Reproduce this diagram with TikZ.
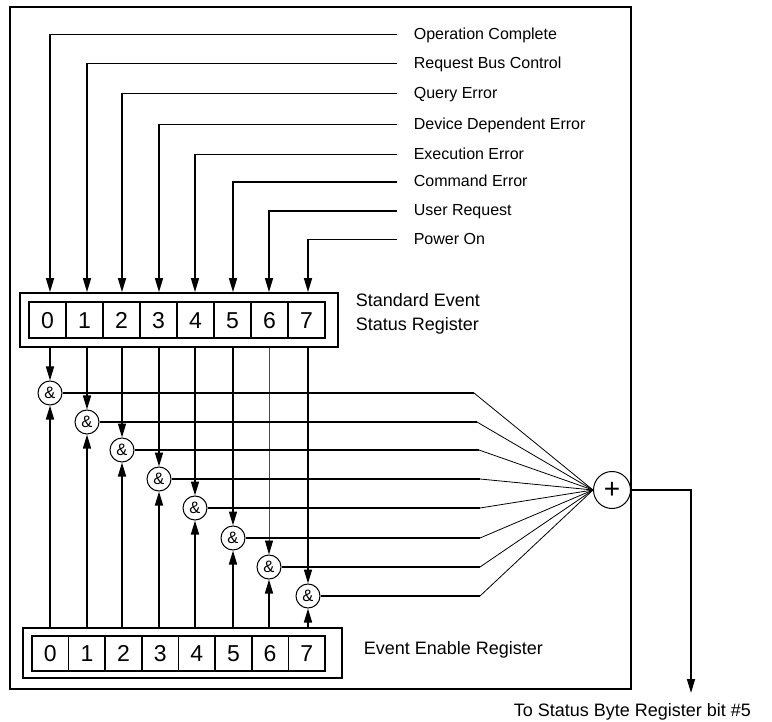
\documentclass[tikz,border=0pt]{standalone}
\usepackage{fontspec}
\setmainfont{Liberation Sans}
\usetikzlibrary{arrows.meta}
\begin{document}
\begin{tikzpicture}[x=1pt,y=-1pt,line width=1.6pt,
  arr/.style={-{Triangle[length=14pt,width=8pt]}},
  thinline/.style={line width=0.8pt},
  regbox/.style={draw,line width=1.8pt,inner sep=0pt},
  cell/.style={draw,line width=1.6pt,inner sep=0pt,minimum height=36pt,
    text height=16.5pt,text depth=0pt,
    font=\fontsize{23}{23}\selectfont},
  gate/.style={draw,circle,line width=1pt,minimum size=24pt,inner sep=0pt,
    font=\fontsize{16.5}{16.5}\selectfont},
  toplabel/.style={anchor=base west,inner sep=0pt,font=\fontsize{16}{19}\selectfont},
  sidelabel/.style={inner sep=0pt,font=\fontsize{18}{24.3}\selectfont}]
\useasboundingbox (0,0) rectangle (772,722);
% outer frame
\draw[line width=1.8pt] (10,7) rectangle (631,689);
% Standard Event Status Register
\node[regbox,minimum width=318pt,minimum height=54pt] (sesr) at (179,320) {};
\foreach \i in {0,...,7}
  \node[cell,minimum width=37pt] (s\i) at ({47.5+37*\i},320) {\i};
\node[sidelabel,anchor=base west,align=left] (sesrlab) at (355,331)
  {Standard Event\\Status Register};
% Event Enable Register
\node[regbox,minimum width=319pt,minimum height=50pt] (eer) at (182.5,653) {};
\foreach \i in {0,...,7}
  \node[cell,minimum width=36.625pt,minimum height=35pt] (e\i) at ({50.3125+36.625*\i},653.5) {\i};
\node[sidelabel,anchor=base west] (eerlab) at (363,654) {Event Enable Register};
% OR gate
\node[draw,circle,line width=1pt,minimum size=37pt,inner sep=0pt,
  font=\fontsize{28}{28}\selectfont] (plus) at (612,490) {+};
% AND gates
\foreach \i/\x/\y in {0/50/393,1/87/422,2/122/450,3/159/479,4/195/508,5/233/538,6/269/567,7/308/596}
  \node[gate] (g\i) at (\x,\y) {\&};
% inputs from the top
\foreach \i/\y/\t in {0/34.5/Operation Complete,1/63.5/Request Bus Control,2/93.5/Query Error,
    3/124.5/Device Dependent Error,4/154.5/Execution Error,5/182/Command Error,
    6/211/User Request,7/239.5/Power On}{
  \coordinate (in\i) at (397,\y);
  \node[toplabel] (l\i) at (413,\y+5) {\t};
  \draw[arr] (in\i) -| (g\i |- sesr.north);
}
% register bits to gates
\foreach \i in {0,1,2,3,4,5,7}
  \draw[arr] (g\i |- sesr.south) -- (g\i.north);
\draw[line width=0.9pt,black!70,-{Triangle[length=14pt,width=8pt,color=black]}]
  (g6 |- sesr.south) -- (g6.north);
\foreach \i in {0,...,7}
  \draw[arr] (g\i |- eer.north) -- (g\i.south);
% gates to OR
\foreach \i/\xe in {0/474,1/477,2/479,3/480,4/480,5/480,6/480,7/480}{
  \coordinate (h\i) at (\xe,0 |- g\i);
  \draw (g\i.east) -- (h\i);
  \draw[thinline] (h\i) -- (plus.west);
}
% output
\coordinate (oc) at (691,490);
\coordinate (oe) at (691,693);
\draw[arr] (plus.east) -- (oc) -- (oe);
\node[sidelabel,anchor=base west] (outlab) at (513,716) {To Status Byte Register bit \#5};
\end{tikzpicture}
\end{document}
